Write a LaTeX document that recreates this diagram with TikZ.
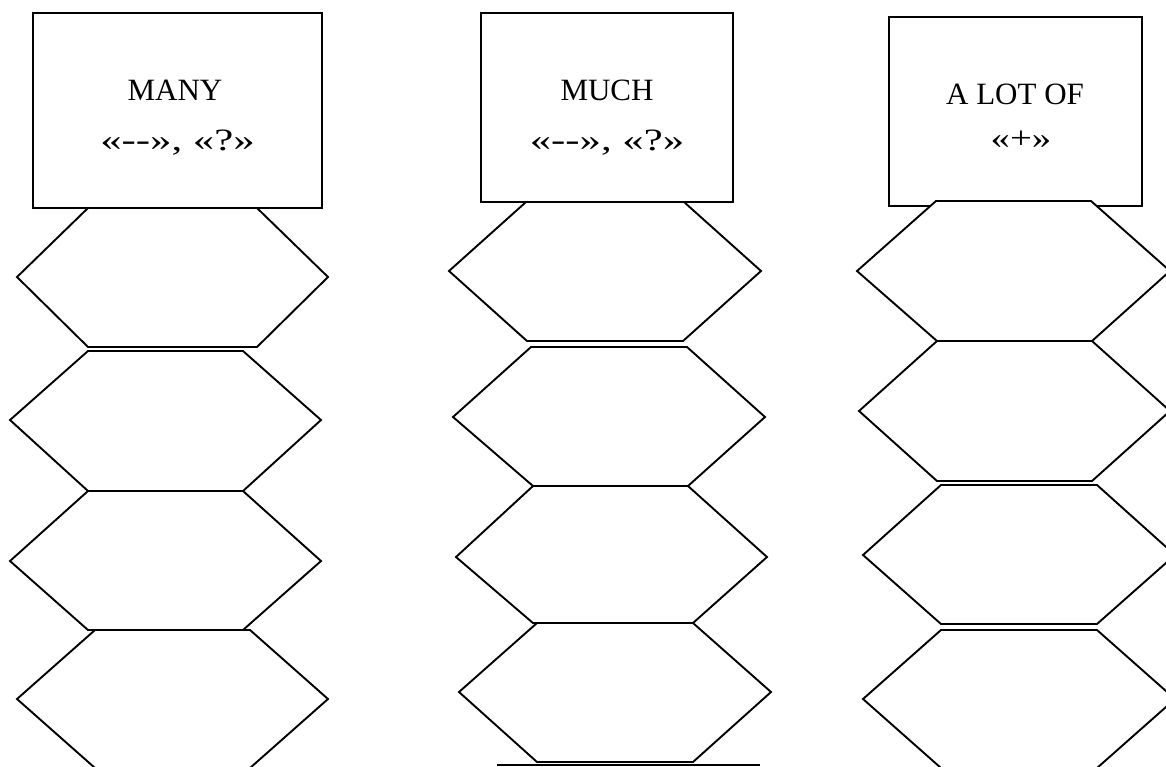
\documentclass[tikz,border=0pt]{standalone}
\usepackage{fontspec}
\setmainfont{Liberation Serif}[Ligatures=TeXOff]
\tikzset{
  shp/.style={draw=black, line width=1.9pt, line join=miter},
  hexa/.style={shp, fill=white},
  card/.style={shp, fill=white, inner sep=0pt, rectangle},
  lbl/.style={anchor=base, inner sep=0pt, font=\fontsize{31}{36}\selectfont}
}
\newcommand\widetxt[2]{\scalebox{#1}[1]{#2}}
\begin{document}
\begin{tikzpicture}[x=1pt,y=-1pt]
\useasboundingbox (0,0) rectangle (1166,766);
\clip (0,0) rectangle (1166,766);
% column 1
\node[card, minimum width=289pt, minimum height=195pt] (r1) at (177.5,110.5) {};
\node[lbl] (t1a) at (175,100) {MANY};
\node[lbl] (t1b) at (177.5,150) {\widetxt{1.38}{«-\kern0pt-», «?»}};
\draw[hexa] (88,208)--(257,208)--(328,277)--(257,347)--(88,347)--(17,277)--cycle;
\draw[hexa] (88,351)--(243,351)--(321,420)--(243,491)--(88,491)--(10,420)--cycle;
\draw[hexa] (88,491)--(243,491)--(321,561)--(243,630)--(88,630)--(10,561)--cycle;
\draw[hexa] (95,630)--(250,630)--(328,699)--(250,768)--(95,768)--(17,699)--cycle;
% column 2
\node[card, minimum width=252pt, minimum height=189pt] (r2) at (607,107.5) {};
\node[lbl] (t2a) at (607,100) {MUCH};
\node[lbl] (t2b) at (607,150) {\widetxt{1.38}{«-\kern0pt-», «?»}};
\draw[hexa] (526,202)--(684,202)--(761,271)--(683,341)--(527,341)--(449,271)--cycle;
\draw[hexa] (531,347)--(687,347)--(765,417)--(688,486)--(533,486)--(453,417)--cycle;
\draw[hexa] (533,486)--(688,486)--(767,557)--(693,623)--(533,623)--(456,557)--cycle;
\draw[hexa] (537,623)--(693,623)--(771,692)--(693,762)--(537,762)--(459,692)--cycle;
\coordinate (b1) at (497,765);
\coordinate (b2) at (760,765);
\draw[shp] (b1)--(b2);
% column 3
\node[card, minimum width=253pt, minimum height=189pt] (r3) at (1015.5,111.5) {};
\node[lbl] (t3a) at (1015,104) {A LOT OF};
\node[lbl] (t3b) at (1021,148) {\widetxt{1.25}{«+»}};
\draw[hexa] (936,201)--(1091,201)--(1170,271)--(1092,341)--(937,341)--(857,271)--cycle;
\draw[hexa] (937,341)--(1092,341)--(1170,411)--(1092,481)--(937,481)--(859,411)--cycle;
\draw[hexa] (941,485)--(1097,485)--(1175,555)--(1097,624)--(941,624)--(863,555)--cycle;
\draw[hexa] (941,630)--(1097,630)--(1175,699)--(1097,768)--(941,768)--(863,699)--cycle;
\end{tikzpicture}
\end{document}
